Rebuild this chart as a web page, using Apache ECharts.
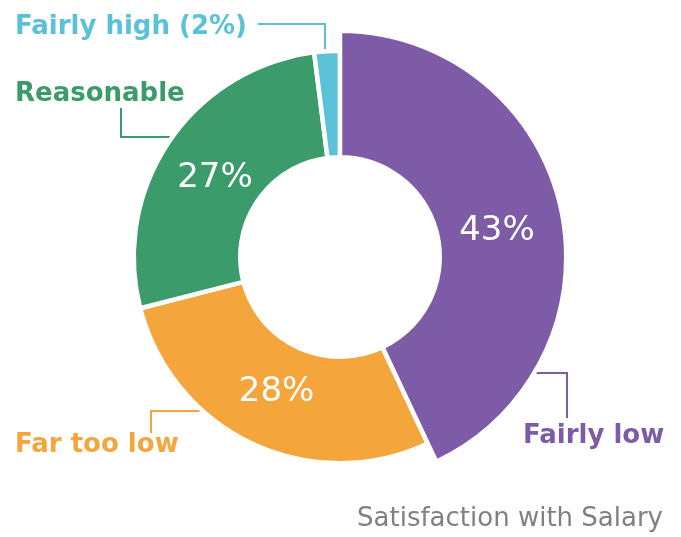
<!DOCTYPE html>
<html>
<head>
<meta charset="utf-8">
<title>Satisfaction with Salary</title>
<script src="https://cdn.jsdelivr.net/npm/echarts@6/dist/echarts.min.js"></script>
<style>
    html, body { margin: 0; padding: 0; background: #fff; }
    #chart { width: 681px; height: 537px; }
</style>
</head>
<body>
<div id="chart"></div>
<script>
// 数据
const categories = ['Fairly low', 'Far too low', 'Reasonable', 'Fairly high']
const shares = [43, 28, 27, 2]
const outerLabels = ['Fairly low', 'Far too low', 'Reasonable', 'Fairly high (2%)']
const titleText = 'Satisfaction with Salary'

// 样式
const colors = ['#7d5ba6', '#f4a63c', '#3b9b6b', '#5bc1d8']
const font = 'DejaVu Sans'
const center = [340, 257]
const gap = 4.5
// 内部百分比标签的微调
const pctOffsets = [[-5, 10], [3, -6], [4, 9], [0, 0]]

// 外部标签位置和引导线（折线）
const leaders = [
    { x: 523, y: 436, line: [[533, 373], [567, 373], [567, 418]] },
    { x: 15, y: 445, line: [[205, 411], [151, 411], [151, 433]] },
    { x: 15, y: 94, line: [[176, 137], [121, 137], [121, 108]] },
    { x: 15, y: 27, line: [[325, 55], [325, 24], [258, 24]] }
]

const chart = echarts.init(document.getElementById('chart'))

const ringData = categories.map((name, i) => ({
    name: name,
    value: shares[i],
    itemStyle: { color: colors[i] }
}))

// 只显示 "Fairly low" 的大扇区
const bigData = categories.map((name, i) => ({
    name: name,
    value: shares[i],
    itemStyle: i === 0
        ? { color: colors[i], borderColor: '#fff', borderWidth: gap }
        : { color: 'rgba(0,0,0,0)', borderWidth: 0 },
    label: { show: i === 0, offset: pctOffsets[i] }
}))

// 透明环，用来放内部百分比
const pctData = categories.map((name, i) => ({
    name: name,
    value: shares[i],
    itemStyle: { color: 'rgba(0,0,0,0)', borderWidth: 0 },
    label: { show: i === 1 || i === 2, offset: pctOffsets[i] }
}))

const option = {
    animation: false,
    title: {
        text: titleText,
        right: 18,
        top: 506,
        padding: 0,
        textStyle: {
            fontFamily: font,
            fontSize: 26,
            fontWeight: 'normal',
            color: '#808080'
        }
    },
    series: [
        {
            name: 'ring',
            type: 'pie',
            center: center,
            radius: [102 - gap / 2, 204 + gap / 2],
            startAngle: 90,
            avoidLabelOverlap: false,
            silent: true,
            itemStyle: { borderColor: '#fff', borderWidth: gap },
            label: {
                show: true,
                position: 'outside',
                formatter: (p) => outerLabels[p.dataIndex],
                fontFamily: font,
                fontSize: 26,
                fontWeight: 'bold',
                color: 'inherit'
            },
            labelLine: {
                show: true,
                lineStyle: { width: 2 }
            },
            labelLayout: function (params) {
                const l = leaders[params.dataIndex]
                return {
                    x: l.x,
                    y: l.y,
                    align: 'left',
                    verticalAlign: 'middle',
                    labelLinePoints: l.line
                }
            },
            data: ringData
        },
        {
            name: 'fairlyLow',
            type: 'pie',
            center: center,
            radius: [102 - gap / 2, 224 + gap / 2],
            startAngle: 90,
            silent: true,
            label: {
                position: 'inside',
                formatter: '{c}%',
                fontFamily: font,
                fontSize: 34,
                color: '#fff'
            },
            labelLine: { show: false },
            data: bigData
        },
        {
            name: 'percent',
            type: 'pie',
            center: center,
            radius: [102 - gap / 2, 204 + gap / 2],
            startAngle: 90,
            silent: true,
            label: {
                position: 'inside',
                formatter: '{c}%',
                fontFamily: font,
                fontSize: 34,
                color: '#fff'
            },
            labelLine: { show: false },
            data: pctData
        }
    ]
}

chart.setOption(option)

window.addEventListener('resize', function () {
    chart.resize()
})
</script>
</body>
</html>
